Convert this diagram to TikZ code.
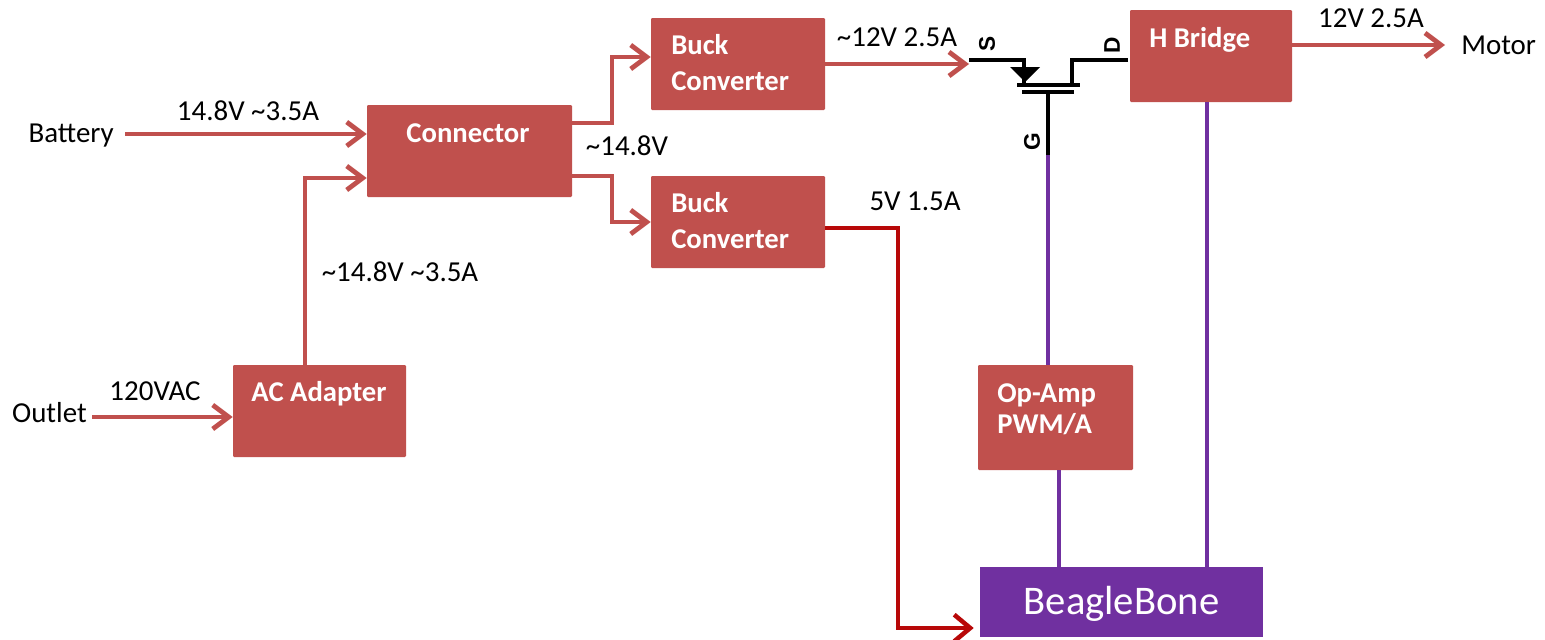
\documentclass[tikz,border=0pt]{standalone}
\usepackage{fontspec}
\setmainfont{Carlito}
\setsansfont{Liberation Sans}
\usetikzlibrary{arrows.meta}
\definecolor{boxred}{HTML}{C0504D}
\definecolor{darkred}{HTML}{B80808}
\definecolor{bbpurple}{HTML}{7030A0}
\tikzset{
  x=0.75pt,y=-0.75pt,
  redbox/.style={fill=boxred,draw=none,rounded corners=0.8pt,minimum width=#1,inner sep=0pt},
  boxtext/.style={text=white,font=\fontsize{21.5}{25}\selectfont\bfseries,align=left,inner sep=0pt},
  lbl/.style={text=black,font=\fontsize{21.7}{25}\selectfont,inner sep=0pt},
  pin/.style={text=black,font=\fontsize{17}{19}\sffamily\bfseries\selectfont,inner sep=0pt,rotate=90},
  flow/.style={draw=boxred,line width=3.6pt,-{Straight Barb[length=12pt,width=18pt,line width=3.6pt]}},
  power/.style={draw=darkred,line width=3.4pt,-{Straight Barb[length=12pt,width=20pt,line width=3.4pt]}},
  sig/.style={draw=bbpurple,line width=3.2pt},
  fet/.style={draw=black,line width=3pt},
}
\newcommand{\pxbox}[6]{\node[redbox=#4*0.75pt-#2*0.75pt,minimum height=#5*0.75pt-#3*0.75pt,#6] (#1) at ({(#2+#4)/2},{(#3+#5)/2}) {};}
\begin{document}
\begin{tikzpicture}
\useasboundingbox (0,0) rectangle (1545,639);
% boxes
\pxbox{conn}{367}{105}{572}{197}{}
\pxbox{buckA}{651}{18}{825}{110}{}
\pxbox{buckB}{651}{176}{825}{268}{}
\pxbox{hb}{1130}{10}{1292}{102}{}
\pxbox{ac}{233}{365}{406}{457}{}
\pxbox{opamp}{978}{365}{1133}{470}{}
\node[fill=bbpurple,minimum width=212.25pt,minimum height=52.5pt,inner sep=0pt] (bb) at (1121.5,602) {};
\node[text=white,inner sep=0pt,font=\fontsize{30.5}{34}\selectfont] (tbb) at (1121.5,604) {BeagleBone};
% box texts
\node[boxtext] (tconn) at (468,133) {Connector};
\node[boxtext,anchor=west] (tA1) at (671,45) {Buck};
\node[boxtext,anchor=west] (tA2) at (671,81) {Converter};
\node[boxtext,anchor=west] (tB1) at (671,203) {Buck};
\node[boxtext,anchor=west] (tB2) at (671,239) {Converter};
\node[boxtext,anchor=west] (thb) at (1149,40) {H Bridge};
\node[boxtext] (tac) at (319,394) {AC Adapter};
\node[boxtext,anchor=west] (top1) at (997,395) {Op-Amp};
\node[boxtext,anchor=west] (top2) at (997,424) {PWM/A};
% end labels
\node[lbl,anchor=east] (battery) at (114,136) {Battery};
\node[lbl,anchor=east] (outlet) at (87,413) {Outlet};
\node[lbl,anchor=west] (motor) at (1461,45) {Motor};
% value labels
\node[lbl] (l1) at (248,111) {14.8V \textasciitilde3.5A};
\node[lbl] (l2) at (400,272) {\textasciitilde14.8V \textasciitilde3.5A};
\node[lbl] (l3) at (155,391) {120VAC};
\node[lbl] (l4) at (627,146) {\textasciitilde14.8V};
\node[lbl] (l5) at (897,37) {\textasciitilde12V 2.5A};
\node[lbl] (l6) at (915,201) {5V 1.5A};
\node[lbl] (l7) at (1371,18) {12V 2.5A};
% transistor
\coordinate (fetS) at (969,60);
\coordinate (fetD) at (1128,60);
\coordinate (fetG) at (1048,155);
\coordinate (barA) at (1017,85);
\coordinate (barB) at (1080,85);
\coordinate (barC) at (1022,92);
\coordinate (barD) at (1074,92);
\draw[fet] (fetS) -- (1024,60) -- (1024,85);
\draw[fet] (fetD) -- (1072,60) -- (1072,85);
\draw[fet] (barA) -- (barB);
\draw[fet] (barC) -- (barD);
\draw[fet] (fetG) -- (fetG |- barD);
\fill[black] (1010,67) -- (1040,67) -- (1025,82) -- cycle;
\node[pin] (pS) at (987,44) {S};
\node[pin] (pD) at (1112,45) {D};
\node[pin] (pG) at (1032,142) {G};
% power connectors
\draw[flow] ([xshift=8.25pt]battery.east |- 0,134) -- (conn.west |- 0,134);
\draw[flow] ([xshift=3.75pt]outlet.east |- 0,417) -- (ac.west |- 0,417);
\draw[flow] (ac.north -| 305,0) |- (conn.west |- 0,178);
\draw[flow] (conn.east |- 0,123) -| (612,90) |- (buckA.west |- 0,57);
\draw[flow] (conn.east |- 0,176) -| (612,200) |- (buckB.west |- 0,222);
\draw[flow] (buckA.east |- 0,64) -- (fetS |- 0,64);
\draw[flow] (hb.east |- motor.west) -- ([xshift=-12pt]motor.west);
\draw[power,shorten >=4.5pt] (buckB.east |- 0,228) -| (898,400) |- (bb.west |- 0,628);
% signal connectors
\draw[sig] (fetG) -- (opamp.north -| fetG);
\draw[sig] (opamp.south -| 1059,0) -- (bb.north -| 1059,0);
\draw[sig] (hb.south -| 1207,0) -- (bb.north -| 1207,0);
\end{tikzpicture}
\end{document}
